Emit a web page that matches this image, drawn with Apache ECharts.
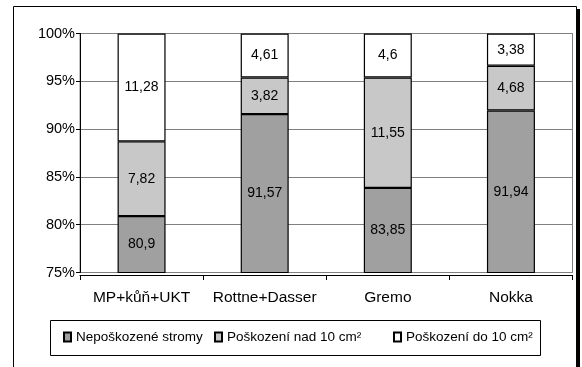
<!DOCTYPE html>
<html>
<head>
<meta charset="utf-8">
<script src="https://cdn.jsdelivr.net/npm/echarts@6/dist/echarts.min.js"></script>
<style>
  html, body { margin: 0; padding: 0; background: #fff; }
  #chart { width: 582px; height: 367px; }
</style>
</head>
<body>
<div id="chart"></div>
<script>
// Harvester systems compared
const categories = ['MP+kůň+UKT', 'Rottne+Dasser', 'Gremo', 'Nokka'];

// Share of trees (%) per damage class
const undamaged = [80.9, 91.57, 83.85, 91.94];
const damagedOver10 = [7.82, 3.82, 11.55, 4.68];
const damagedUnder10 = [11.28, 4.61, 4.6, 3.38];

const seriesNames = ['Nepoškozené stromy', 'Poškození nad 10 cm²', 'Poškození do 10 cm²'];

// Value axis tick range
const yMin = 75, yMax = 100, yStep = 5;

const FONT = "'Liberation Sans', Arial, sans-serif";

const fmt = v => String(v).replace('.', ',');

function barSeries(name, data, color) {
  return {
    name: name,
    type: 'bar',
    stack: 'total',
    data: data,
    barWidth: 48,
    clip: true,
    itemStyle: { color: color, borderColor: '#000', borderWidth: 1.2 },
    label: {
      show: true,
      position: 'inside',
      color: '#000',
      fontFamily: FONT,
      fontSize: 14,
      formatter: p => fmt(p.value)
    },
    emphasis: { disabled: true }
  };
}

// one legend block per series, each placed on its own
function legendAt(left, name) {
  return {
    left: left, top: 330,
    padding: 0,
    itemWidth: 7, itemHeight: 9,
    icon: 'rect',
    textStyle: { color: '#000', fontFamily: FONT, fontSize: 13.5 },
    data: [name]
  };
}

const chart = echarts.init(document.getElementById('chart'), null, { renderer: 'canvas' });

chart.setOption({
  animation: false,
  backgroundColor: '#fff',
  grid: {
    left: 80, right: 9.5, top: 33.5, bottom: 94.5,
    show: true, borderColor: '#808080', borderWidth: 1
  },
  xAxis: {
    type: 'category',
    data: categories,
    offset: 2.5,
    axisLine: { show: true, lineStyle: { color: '#000', width: 1 } },
    axisTick: { show: true, alignWithLabel: false, length: 5, lineStyle: { color: '#000' } },
    axisLabel: { color: '#000', fontFamily: FONT, fontSize: 15.5, margin: 15, interval: 0 }
  },
  yAxis: {
    type: 'value',
    min: yMin, max: yMax, interval: yStep,
    axisLine: { show: true, lineStyle: { color: '#000', width: 1 } },
    axisTick: { show: true, length: 4, lineStyle: { color: '#000' } },
    axisLabel: { color: '#000', fontFamily: FONT, fontSize: 14.5, margin: 5, formatter: '{value}%' },
    splitLine: { show: true, lineStyle: { color: '#808080', width: 1 } }
  },
  legend: [
    legendAt(63, seriesNames[0]),
    legendAt(214, seriesNames[1]),
    legendAt(393, seriesNames[2])
  ],
  graphic: [
    { type: 'rect', shape: { x: 13.5, y: 6.5, width: 563, height: 370 },
      style: { fill: 'none', stroke: '#000', lineWidth: 1 }, silent: true, z: 0 },
    { type: 'rect', shape: { x: 577, y: 9, width: 3, height: 370 },
      style: { fill: '#000' }, silent: true, z: 0 },
    { type: 'rect', shape: { x: 50.5, y: 320.5, width: 490, height: 35 },
      style: { fill: 'none', stroke: '#000', lineWidth: 1 }, silent: true, z: 0 }
  ],
  series: [
    barSeries(seriesNames[0], undamaged, '#a0a0a0'),
    barSeries(seriesNames[1], damagedOver10, '#c8c8c8'),
    barSeries(seriesNames[2], damagedUnder10, '#ffffff')
  ]
});
</script>
</body>
</html>
